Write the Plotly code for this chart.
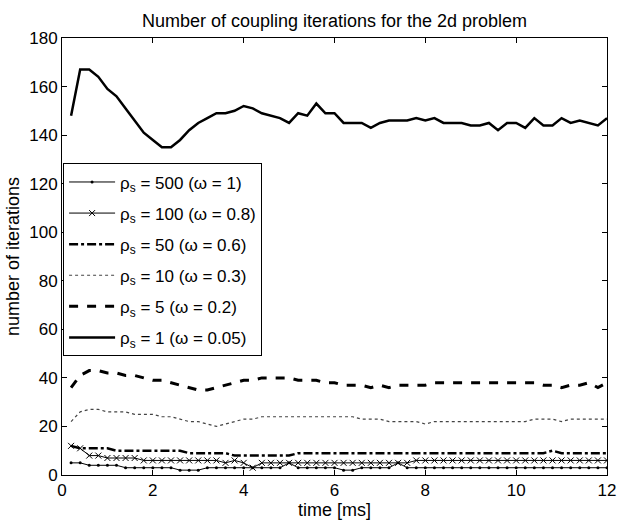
import plotly.graph_objects as go

time = [round(0.2 * i, 1) for i in range(1, 61)]

rho1 = [148, 167, 167, 164, 159, 156, 151, 146, 141, 138, 135, 135, 138, 142, 145, 147, 149, 149, 150, 152,
        151, 149, 148, 147, 145, 149, 148, 153, 149, 149, 145, 145, 145, 143, 145, 146, 146, 146, 147, 146,
        147, 145, 145, 145, 144, 144, 145, 142, 145, 145, 143, 147, 144, 144, 147, 145, 146, 145, 144, 147]
rho5 = [36, 41, 43, 43, 42, 42, 41, 41, 40, 39, 39, 38, 37, 36, 35, 35, 36, 37, 38, 39,
        39, 40, 40, 40, 40, 39, 39, 39, 38, 38, 37, 37, 37, 36, 37, 36, 37, 37, 37, 37,
        38, 38, 38, 38, 38, 38, 38, 38, 38, 38, 38, 38, 37, 37, 36, 37, 37, 38, 36, 38]
rho10 = [22, 26, 27, 27, 26, 26, 26, 25, 25, 25, 24, 24, 23, 22, 22, 21, 20, 21, 22, 23,
         23, 24, 24, 24, 24, 24, 24, 24, 24, 24, 24, 24, 23, 23, 23, 22, 22, 22, 22, 21,
         22, 22, 22, 22, 22, 22, 22, 22, 22, 22, 22, 23, 23, 23, 22, 23, 23, 23, 23, 23]
rho50 = [12, 11, 11, 11, 11, 10, 10, 10, 10, 10, 10, 10, 10, 9, 9, 9, 9, 9, 8, 8,
         8, 8, 8, 8, 8, 9, 9, 9, 9, 9, 9, 9, 9, 9, 9, 9, 9, 9, 9, 9,
         9, 9, 9, 9, 9, 9, 9, 9, 9, 9, 9, 9, 9, 10, 9, 9, 9, 9, 9, 9]
rho100 = [12, 11, 8, 8, 7, 7, 7, 7, 6, 6, 6, 6, 6, 6, 6, 6, 6, 5, 6, 5,
          3, 5, 5, 5, 5, 5, 5, 5, 5, 5, 5, 5, 5, 5, 5, 5, 5, 5, 6, 6,
          6, 6, 6, 6, 6, 6, 6, 6, 6, 6, 6, 6, 6, 6, 6, 6, 6, 6, 6, 6]
rho500 = [5, 5, 4, 4, 4, 4, 3, 3, 3, 3, 3, 3, 2, 2, 2, 3, 3, 3, 3, 3,
          3, 3, 3, 3, 5, 3, 3, 3, 3, 3, 2, 2, 3, 3, 3, 3, 5, 3, 3, 3,
          3, 3, 3, 3, 3, 3, 3, 3, 3, 3, 3, 3, 3, 3, 3, 3, 3, 3, 3, 3]

names = ["ρ<sub>s</sub> = 500 (ω = 1)", "ρ<sub>s</sub> = 100 (ω = 0.8)", "ρ<sub>s</sub> = 50 (ω = 0.6)",
         "ρ<sub>s</sub> = 10 (ω = 0.3)", "ρ<sub>s</sub> = 5 (ω = 0.2)", "ρ<sub>s</sub> = 1 (ω = 0.05)"]

FONT = "Liberation Sans, Arial, Helvetica, sans-serif"

fig = go.Figure()
fig.add_trace(go.Scatter(x=time, y=rho500, name=names[0], mode="lines+markers", legendgroup="a",
                         line=dict(color="black", width=1), marker=dict(symbol="circle", size=3, color="black")))
fig.add_trace(go.Scatter(x=time, y=rho100, name=names[1], mode="lines+markers", legendgroup="b",
                         line=dict(color="black", width=1),
                         marker=dict(symbol="x-thin", size=6, color="black", line=dict(width=1, color="black"))))
fig.add_trace(go.Scatter(x=time, y=rho50, name=names[2], mode="lines", legendgroup="c",
                         line=dict(color="black", width=2.5, dash="dashdot")))
fig.add_trace(go.Scatter(x=time, y=rho10, name=names[3], mode="lines", legendgroup="d",
                         line=dict(color="#444444", width=1.2, dash="dot")))
fig.add_trace(go.Scatter(x=time, y=rho5, name=names[4], mode="lines", legendgroup="e",
                         line=dict(color="black", width=3, dash="dash")))
fig.add_trace(go.Scatter(x=time, y=rho1, name=names[5], mode="lines", legendgroup="f",
                         line=dict(color="black", width=2.5)))

axis_common = dict(showline=True, linecolor="black", linewidth=1, mirror="allticks", ticks="inside",
                   ticklen=5, tickcolor="black", showgrid=False, zeroline=False,
                   tickfont=dict(family=FONT, size=17, color="black"))

fig.update_layout(
    width=625, height=524,
    margin=dict(l=62, r=9, t=38, b=47),
    paper_bgcolor="white", plot_bgcolor="white",
    font=dict(family=FONT, size=16, color="black"),
    title=dict(text="Number of coupling iterations for the 2d problem", x=0.5, xref="paper",
               y=1 - 21 / 524, yref="container", yanchor="middle", xanchor="center",
               font=dict(family=FONT, size=18, color="black")),
    xaxis=dict(range=[0, 12], tickvals=[0, 2, 4, 6, 8, 10, 12], title=dict(text="time [ms]", standoff=2,
               font=dict(family=FONT, size=18)), **axis_common),
    yaxis=dict(range=[0, 180], tickvals=list(range(0, 181, 20)), title=dict(text="number of iterations", standoff=4,
               font=dict(family=FONT, size=18)), **axis_common),
    legend=dict(x=0.002, y=0.713, xanchor="left", yanchor="top", bgcolor="white", bordercolor="black",
                borderwidth=1, tracegroupgap=6, itemwidth=46, entrywidth=200,
                font=dict(family=FONT, size=17, color="black"),
                traceorder="grouped"),
    showlegend=True,
    hovermode=False,
)

fig.write_html("out.html")
